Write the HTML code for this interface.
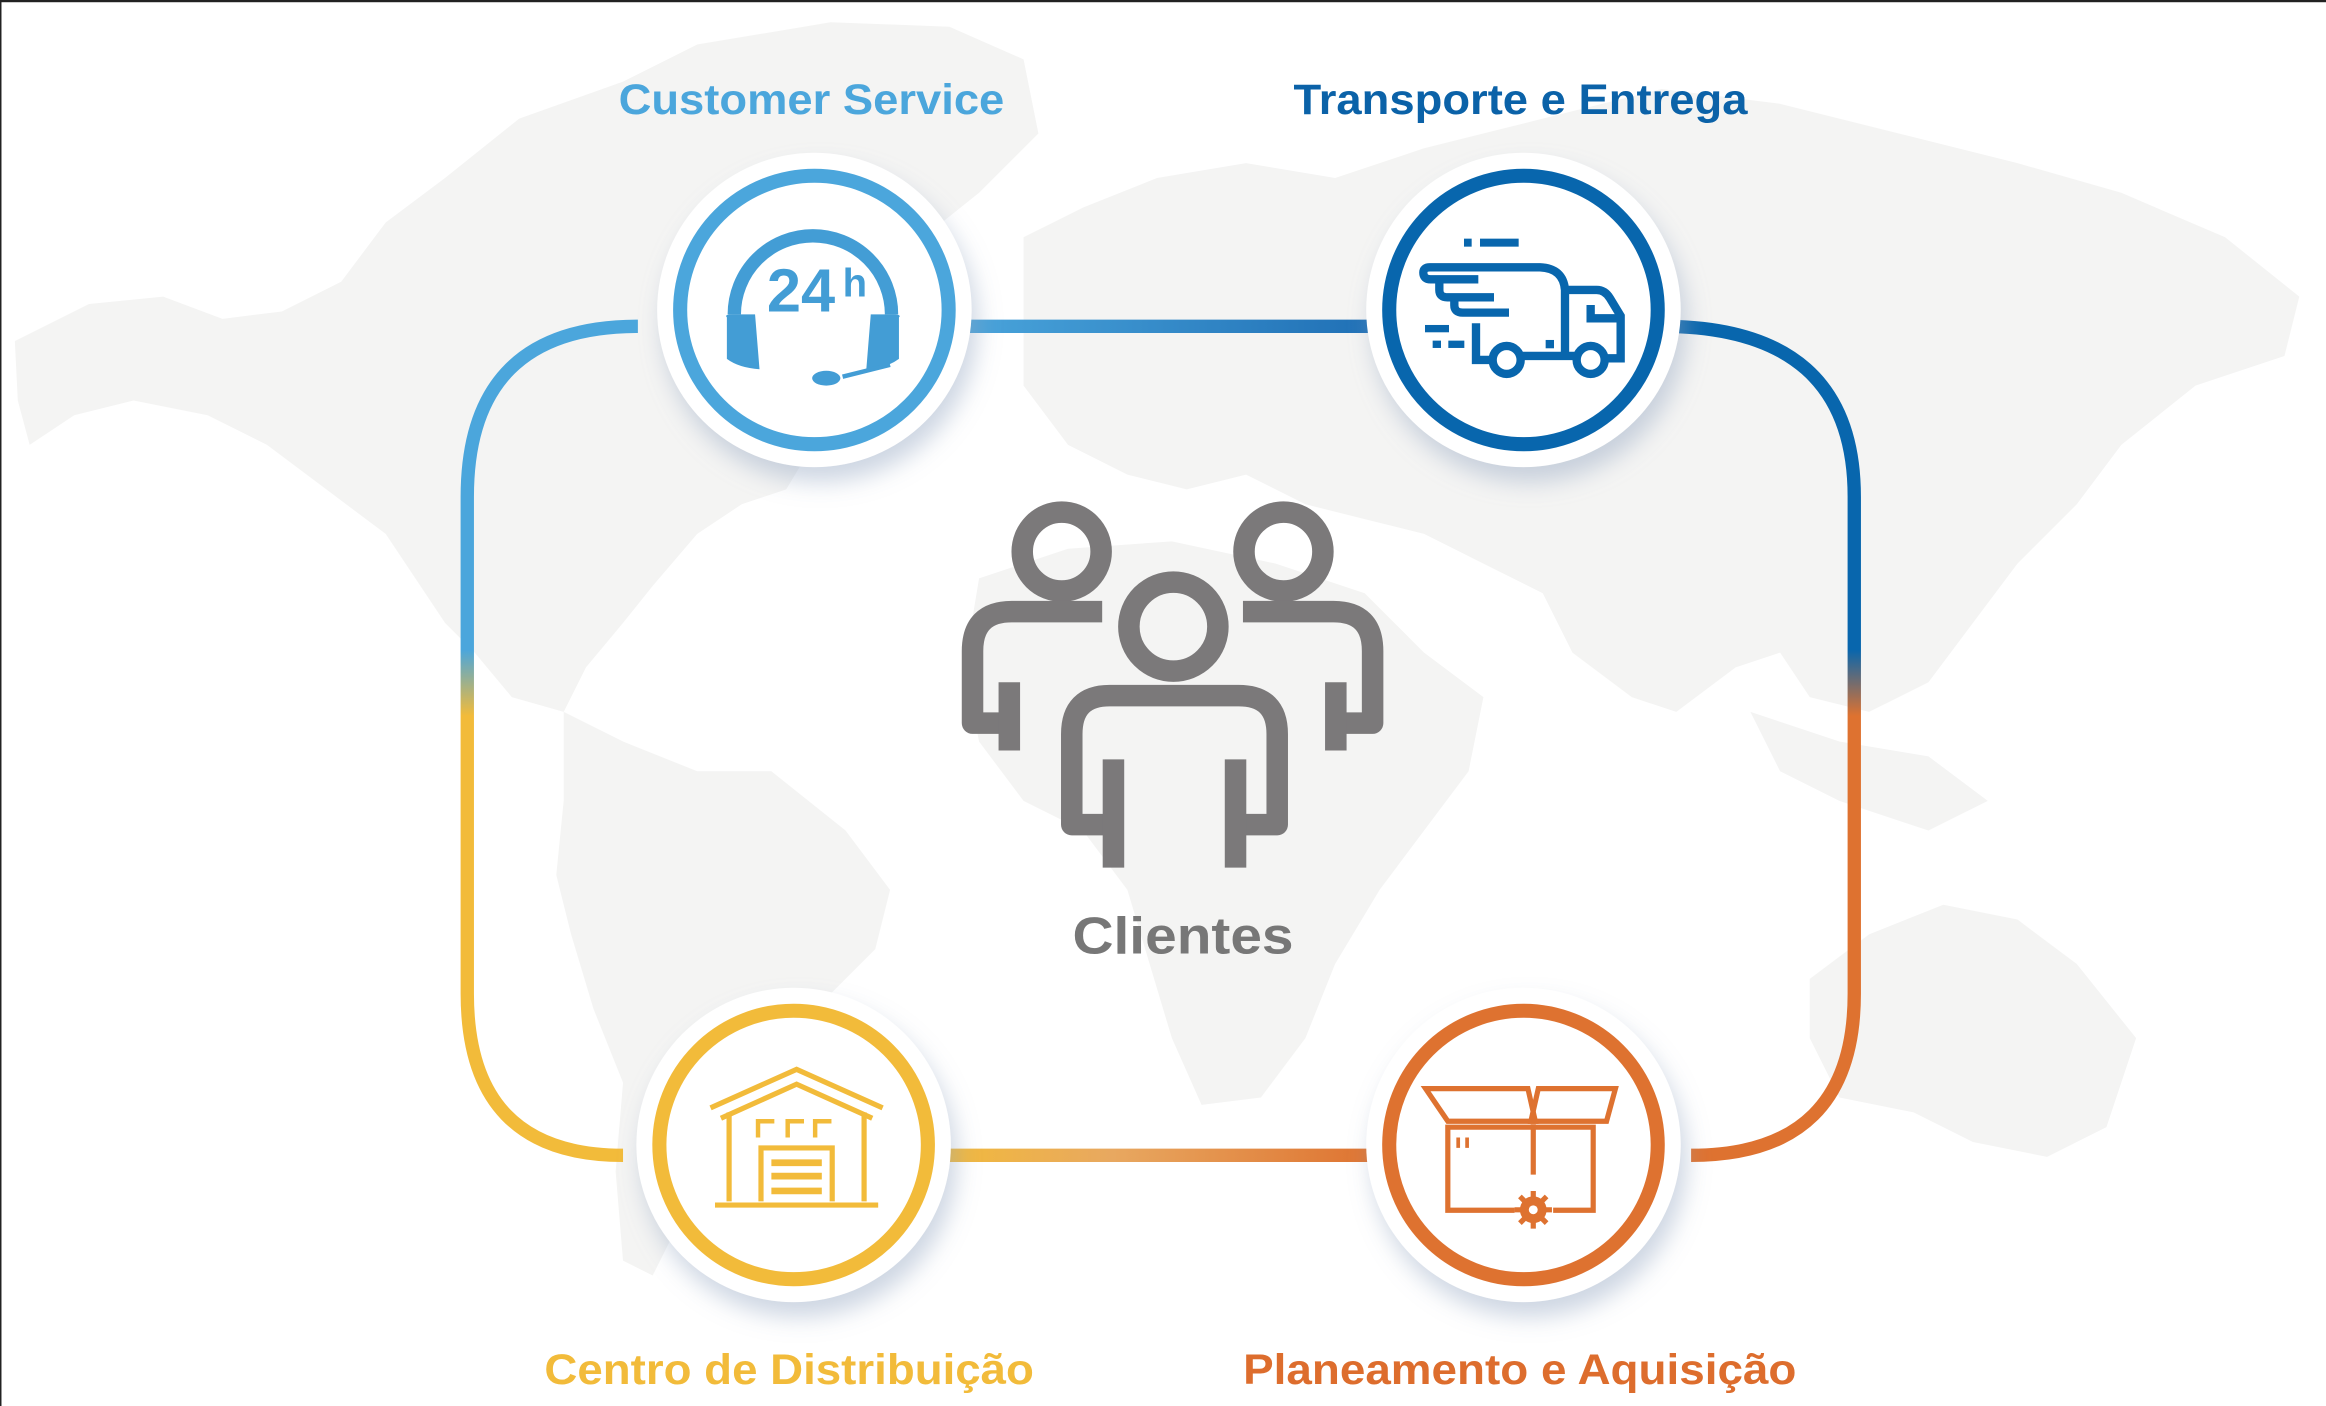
<!DOCTYPE html>
<html><head><meta charset="utf-8"><style>
html,body{margin:0;padding:0;background:#fff;}
svg{display:block;}
text{font-family:"Liberation Sans","DejaVu Sans",sans-serif;font-weight:bold;}
</style></head><body>
<svg width="2326" height="1406" viewBox="0 0 1568 948" preserveAspectRatio="none" xmlns="http://www.w3.org/2000/svg">
<defs>
<linearGradient id="gl" x1="0" y1="220" x2="0" y2="779" gradientUnits="userSpaceOnUse">
<stop offset="0" stop-color="#4ba6dc"/><stop offset="0.39" stop-color="#4ba6dc"/><stop offset="0.47" stop-color="#f2bb3a"/><stop offset="1" stop-color="#f2bb3a"/></linearGradient>
<linearGradient id="gr" x1="0" y1="220" x2="0" y2="779" gradientUnits="userSpaceOnUse">
<stop offset="0" stop-color="#0866ad"/><stop offset="0.39" stop-color="#0866ad"/><stop offset="0.47" stop-color="#de7230"/><stop offset="1" stop-color="#de7230"/></linearGradient>
<linearGradient id="gt" x1="640" y1="0" x2="930" y2="0" gradientUnits="userSpaceOnUse">
<stop offset="0" stop-color="#4ba6dc"/><stop offset="1" stop-color="#1f6fb5"/></linearGradient>
<linearGradient id="gb" x1="630" y1="0" x2="930" y2="0" gradientUnits="userSpaceOnUse">
<stop offset="0" stop-color="#f2bb3a"/><stop offset="0.4" stop-color="#e8a860"/><stop offset="1" stop-color="#de7230"/></linearGradient>
<filter id="sh" x="-30%" y="-30%" width="160%" height="160%"><feDropShadow dx="4" dy="10" stdDeviation="8" flood-color="#8fa3c0" flood-opacity="0.45"/></filter>
</defs>
<rect x="0" y="0" width="1568" height="948" fill="#fff"/>
<rect x="0" y="0" width="1568" height="1.5" fill="#222"/>
<rect x="0" y="0" width="1" height="948" fill="#222"/>
<g fill="#f4f4f3">
<path d="M10,230 L60,205 L110,200 L150,215 L190,210 L230,190 L260,150 L300,120 L350,80 L420,55 L470,30 L560,15 L640,18 L690,40 L700,90 L660,130 L610,170 L580,180 L560,160 L520,200 L540,240 L560,280 L530,330 L500,340 L470,360 L440,395 L420,420 L395,450 L380,480 L345,470 L320,440 L300,420 L260,360 L220,330 L180,300 L140,280 L90,270 L50,280 L20,300 L12,270 Z"/>
<path d="M380,480 L420,500 L470,520 L520,520 L570,560 L600,600 L590,640 L560,670 L530,700 L500,730 L480,770 L460,820 L440,860 L420,850 L415,790 L420,730 L400,680 L385,630 L375,590 L380,540 Z"/>
<path d="M690,160 L730,140 L780,120 L840,110 L900,120 L960,100 L1040,80 L1120,60 L1200,70 L1280,90 L1360,110 L1430,130 L1500,160 L1550,200 L1540,240 L1480,260 L1430,300 L1400,340 L1360,380 L1330,420 L1300,460 L1260,480 L1220,470 L1200,440 L1170,450 L1130,480 L1100,470 L1060,440 L1040,400 L1000,380 L960,360 L920,350 L880,340 L840,320 L800,330 L760,320 L720,300 L690,260 Z"/>
<path d="M660,390 L720,370 L790,365 L860,380 L920,400 L960,440 L1000,470 L990,520 L960,560 L930,600 L900,650 L880,700 L850,740 L810,745 L790,700 L775,650 L760,600 L730,560 L690,540 L660,500 L650,450 Z"/>
<path d="M1220,660 L1260,630 L1310,610 L1360,620 L1400,650 L1440,700 L1420,760 L1380,780 L1330,770 L1290,750 L1240,740 L1220,700 Z"/>
<path d="M1180,480 L1240,500 L1300,510 L1340,540 L1300,560 L1240,540 L1200,520 Z"/>
</g>
<g fill="none" stroke-width="9">
<path d="M430,220 Q315,220 315,335 L315,670 Q315,779 420,779" stroke="url(#gl)"/>
<path d="M1120,220 Q1250,220 1250,335 L1250,670 Q1250,779 1140,779" stroke="url(#gr)"/>
<path d="M630,220 L940,220" stroke="url(#gt)"/>
<path d="M620,779 L940,779" stroke="url(#gb)"/>
</g>
<g filter="url(#sh)" fill="#fff">
<circle cx="549" cy="209" r="106"/>
<circle cx="1027" cy="209" r="106"/>
<circle cx="535" cy="772" r="106"/>
<circle cx="1027" cy="772" r="106"/>
</g>
<g fill="none" stroke-width="9.5">
<circle cx="549" cy="209" r="90.5" stroke="#4ba6dc"/>
<circle cx="1027" cy="209" r="90.5" stroke="#0866ad"/>
<circle cx="535" cy="772" r="90.5" stroke="#f2bb3a"/>
<circle cx="1027" cy="772" r="90.5" stroke="#de7230"/>
</g>
<g fill="#439dd5" stroke="none">
<path d="M495,212 A53,53 0 0 1 601,212" fill="none" stroke="#439dd5" stroke-width="9"/>
<path d="M490,214 Q488,212 494,212 L509,212 L512,249 Q498,248 490,242 Z"/>
<path d="M606,214 Q608,212 602,212 L587,212 L584,249 Q598,248 606,242 Z"/>
<path d="M600,246 L568,254" stroke="#439dd5" stroke-width="3" fill="none"/>
<ellipse cx="557" cy="255" rx="9.5" ry="5"/>
<text x="517" y="210" font-size="41" textLength="46" lengthAdjust="spacingAndGlyphs">24</text>
<text x="568" y="200" font-size="27">h</text>
</g>
<g transform="translate(916.8,94.4) scale(0.2247)" fill="none" stroke="#0866ad" stroke-width="25">
<rect x="312" y="296" width="23" height="24" fill="#0866ad" stroke="none"/>
<rect x="360" y="296" width="116" height="24" fill="#0866ad" stroke="none"/>
<path d="M355,418 H212 Q190,418 190,398 Q190,382 210,382 H540 Q610,385 615,450 V655"/>
<path d="M402,472 H262 Q238,472 238,450 V420"/>
<path d="M447,518 H308 Q283,518 283,496 V472"/>
<path d="M348,550 V660 H398 M482,648 H650 M735,655 H782 V528 L750,475 Q735,450 710,450 H615"/>
<path d="M692,495 V535 H775"/>
<circle cx="440" cy="660" r="42"/>
<circle cx="692" cy="660" r="42"/>
<rect x="557" y="600" width="25" height="25" fill="#0866ad" stroke="none"/>
<rect x="195" y="555" width="72" height="22" fill="#0866ad" stroke="none"/>
<rect x="218" y="602" width="25" height="22" fill="#0866ad" stroke="none"/>
<rect x="265" y="602" width="48" height="22" fill="#0866ad" stroke="none"/>
</g>
<g fill="none" stroke="#f2bb3a" stroke-width="3.5">
<path d="M479,747 L537,721 L595,747"/>
<path d="M486,754 L537,731 L588,754"/>
<path d="M491.5,750 V810 M582.5,750 V810"/>
<path d="M482,812.5 H592"/>
<path d="M513,810 V774 H561 V810"/>
<path d="M520,784 H554 M520,793 H554 M520,803 H554" stroke-width="4.5"/>
<path d="M511,767 V756 H522 M531,767 V756 H542 M549.5,767 V756 H560.5" stroke-width="3"/>
</g>
<g fill="none" stroke="#de7230" stroke-width="3.5">
<path d="M961,734 H1030 L1035,756 H976 Z"/>
<path d="M1037,734 H1089 L1083,756 H1032 Z"/>
<path d="M1021,816 H976 V760 H1074 V816 H1047"/>
<path d="M1033.6,758 V792"/>
<path d="M983,767 V774 M989,767 V774" stroke-width="2.5"/>
<circle cx="1033.6" cy="815.7" r="6.5" stroke-width="5"/>
<path d="M1033.6,803 V828.4 M1021,815.7 H1046.2 M1024.6,806.7 L1042.6,824.7 M1042.6,806.7 L1024.6,824.7" stroke-width="3.5"/>
<circle cx="1033.6" cy="815.7" r="3" fill="#fff" stroke="none"/>
</g>
<g fill="none" stroke="#7b797a" stroke-width="14.5" stroke-linecap="round" stroke-linejoin="round">
<circle cx="715.7" cy="371.9" r="26.6"/>
<circle cx="865.2" cy="371.9" r="26.6"/>
<path d="M743,412.4 H682 Q655.6,412.4 655.6,439 V487.6 H680.4" stroke-linecap="butt"/>
<path d="M680.4,460 V506" stroke-linecap="butt"/>
<path d="M837.9,412.4 H898.9 Q925.3,412.4 925.3,439 V487.6 H900.5" stroke-linecap="butt"/>
<path d="M900.5,460 V506" stroke-linecap="butt"/>
<circle cx="791" cy="422.5" r="30"/>
<path d="M750.6,556 H722.5 V495 Q722.5,469 748,469 H835 Q861,469 861,495 V556 H832.9" stroke-linecap="butt"/>
<path d="M750.6,512 V585 M832.9,512 V585" stroke-linecap="butt"/>
</g>
<text x="417" y="77" font-size="29" fill="#4ba6dc" textLength="260" lengthAdjust="spacingAndGlyphs">Customer Service</text>
<text x="872" y="77" font-size="29" fill="#0b62a8" textLength="306" lengthAdjust="spacingAndGlyphs">Transporte e Entrega</text>
<text x="367" y="933" font-size="29" fill="#f2bb3a" textLength="330" lengthAdjust="spacingAndGlyphs">Centro de Distribuição</text>
<text x="838" y="933" font-size="29" fill="#dd6d2d" textLength="373" lengthAdjust="spacingAndGlyphs">Planeamento e Aquisição</text>
<text x="723" y="643" font-size="35" fill="#777" textLength="149" lengthAdjust="spacingAndGlyphs">Clientes</text>
</svg>
</body></html>
